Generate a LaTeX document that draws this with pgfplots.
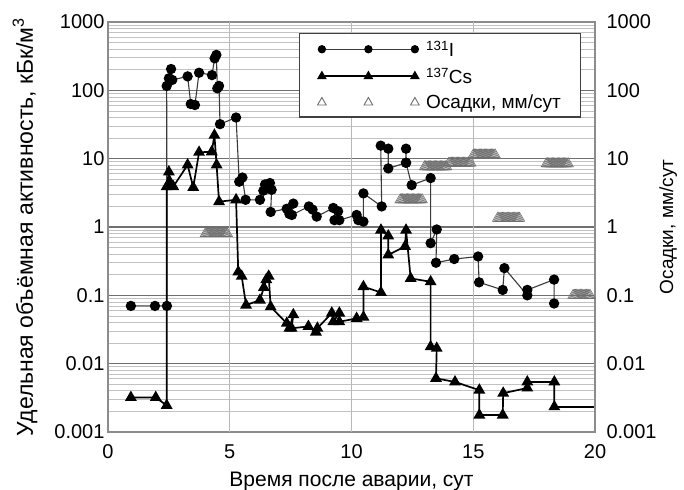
\documentclass[border=0pt]{standalone}
\usepackage{fontspec}
\setmainfont{Liberation Sans}
\usepackage{pgfplots}
\pgfplotsset{compat=1.18}
\definecolor{majgrid}{HTML}{707070}
\definecolor{mingrid}{HTML}{C2C2C2}
\definecolor{vgrid}{HTML}{B8B8B8}
\definecolor{framec}{HTML}{8C8C8C}
\definecolor{rain}{HTML}{6E6E6E}
\definecolor{iline}{HTML}{3A3A3A}
\begin{document}
\begin{tikzpicture}
\begin{axis}[name=ax, scale only axis, width=487pt, height=410pt,
  xmin=0, xmax=20, ymode=log, ymin=0.001, ymax=1000,
  xtick={0,5,10,15,20}, xticklabels={0,5,10,15,20},
  extra x ticks={5,10,15}, extra x tick labels={},
  extra x tick style={xmajorgrids=true, major grid style={vgrid, line width=0.9pt}},
  ytick={0.001,0.01,0.1,1,10,100,1000},
  yticklabels={0.001,0.01,0.1,1,10,100,1000},
  minor ytick={0.002,0.003,0.004,0.005,0.006,0.007,0.008,0.009,
    0.02,0.03,0.04,0.05,0.06,0.07,0.08,0.09,
    0.2,0.3,0.4,0.5,0.6,0.7,0.8,0.9,
    2,3,4,5,6,7,8,9,20,30,40,50,60,70,80,90,
    200,300,400,500,600,700,800,900},
  ymajorgrids, yminorgrids,
  major grid style={majgrid, line width=1.1pt},
  minor grid style={mingrid, line width=0.8pt},
  tick pos=left, major tick length=0pt, minor tick length=0pt,
  axis line style={framec, line width=1.8pt},
  tick label style={font=\fontsize{20}{24}\selectfont},
  xticklabel style={yshift=-9pt},
  xlabel style={font=\fontsize{21}{25}\selectfont, yshift=-6pt},
  ylabel style={font=\fontsize{23}{27}\selectfont, yshift=10pt},
  xlabel={Время после аварии, сут},
  ylabel={Удельная объёмная активность, кБк/м\textsuperscript{3}},
  legend style={at={(0.392,0.973)}, anchor=north west, draw=black!75, line width=1.3pt,
    fill=white, font=\fontsize{19}{22}\selectfont, inner xsep=18pt, inner ysep=5pt, row sep=6pt},
  legend cell align=left,
  legend image code/.code={\draw[mark repeat=1,mark phase=1,#1] plot coordinates {(0pt,0pt) (46.5pt,0pt) (93pt,0pt)};},
]
\addplot[iline, line width=1.1pt, mark=*, mark size=4.6pt, mark options={black, fill=black, solid},
  legend image post style={mark size=3.6pt}] coordinates {
(0.94,0.07) (1.93,0.07) (2.42,0.07) (2.41,116) (2.5,150) (2.59,205) (2.64,142) (3.27,160) (3.40,63) (3.57,61) (3.74,181) (4.27,167) (4.38,294) (4.45,330) (4.49,107) (4.56,116) (4.60,32) (5.26,40) (5.39,4.6) (5.52,5.3) (5.65,2.5) (6.24,2.5) (6.38,3.4) (6.45,4.2) (6.55,3.7) (6.65,4.4) (6.72,3.5) (6.68,1.66) (7.34,1.85) (7.45,1.55) (7.61,2.2) (7.55,1.5) (8.25,2.0) (8.4,1.8) (8.57,1.42) (9.25,1.9) (9.45,1.7) (9.3,1.26) (9.5,1.26) (10.21,1.5) (10.28,1.26) (10.49,1.2) (10.49,3.1) (11.24,2.0) (11.2,15.5) (11.51,14) (11.51,7.2) (12.24,8.7) (12.24,14) (12.24,8.7) (12.47,4.1) (13.25,5.2) (13.25,0.58) (13.5,0.92) (13.47,0.30) (14.22,0.34) (15.2,0.37) (15.24,0.155) (16.21,0.12) (16.28,0.25) (17.22,0.10) (17.22,0.12) (18.32,0.17) (18.32,0.076)
};
\addlegendentry{\hspace{5pt}\textsuperscript{131}I}
\addplot[black, line width=1.7pt, mark=triangle*, mark size=5.2pt, mark options={black, fill=black, solid},
  legend image post style={mark size=4pt}] coordinates {
(0.94,0.0032) (1.96,0.0032) (2.41,0.00245) (2.41,3.9) (2.5,6.4) (2.55,4.5) (2.68,3.9) (3.27,8.1) (3.5,3.8) (3.74,12.4) (4.26,12.6) (4.37,22) (4.46,8.1) (4.56,2.35) (5.26,2.5) (5.35,0.22) (5.49,0.19) (5.67,0.072) (6.24,0.085) (6.4,0.13) (6.5,0.17) (6.6,0.19) (6.68,0.068) (7.34,0.039) (7.45,0.033) (7.61,0.052) (7.54,0.033) (8.23,0.035) (8.54,0.029) (8.6,0.033) (9.19,0.055) (9.25,0.041) (9.5,0.055) (9.5,0.041) (10.21,0.046) (10.49,0.048) (10.49,0.134) (11.21,0.11) (11.21,0.90) (11.51,0.74) (11.51,0.39) (12.2,0.52) (12.24,0.90) (12.43,0.177) (13.25,0.158) (13.25,0.0177) (13.5,0.0168) (13.47,0.0061) (14.25,0.0054) (15.25,0.0041) (15.25,0.00177) (16.21,0.00177) (16.23,0.0037) (17.22,0.0044) (17.22,0.0054) (18.33,0.0054) (18.33,0.00234)
};
\addlegendentry{\hspace{5pt}\textsuperscript{137}Cs}
\addplot[black, line width=1.7pt, forget plot] coordinates {(18.33,0.00234) (20,0.00234)};
\addlegendimage{only marks, mark=triangle, mark size=5pt, mark options={rain, line width=0.9pt}}
\addlegendentry{\hspace{5pt}Осадки, мм/сут}
\end{axis}
\begin{axis}[scale only axis, width=487pt, height=410pt,
  xmin=0, xmax=20, ymode=log, ymin=0.001, ymax=1000,
  axis x line=none, axis y line*=right,
  ytick={0.001,0.01,0.1,1,10,100,1000},
  yticklabels={0.001,0.01,0.1,1,10,100,1000},
  major tick length=0pt, minor tick length=0pt, minor ytick={},
  axis line style={framec, line width=1.8pt},
  tick label style={font=\fontsize{20}{24}\selectfont},
  yticklabel style={xshift=8pt},
  ylabel style={font=\fontsize{19}{23}\selectfont, yshift=4pt},
  ylabel={Осадки, мм/сут},
]
\addplot[only marks, mark=triangle, mark size=6pt, mark options={rain, line width=0.6pt}] coordinates {
(4.0,0.8) (4.05,0.8) (4.1,0.8) (4.15,0.8) (4.2,0.8) (4.25,0.8) (4.3,0.8) (4.35,0.8) (4.4,0.8) (4.45,0.8) (4.5,0.8) (4.55,0.8) (4.6,0.8) (4.65,0.8) (4.7,0.8) (4.75,0.8) (4.8,0.8) (4.85,0.8) (4.9,0.8)
(12.0,2.5) (12.05,2.5) (12.1,2.5) (12.15,2.5) (12.2,2.5) (12.25,2.5) (12.3,2.5) (12.35,2.5) (12.4,2.5) (12.45,2.5) (12.5,2.5) (12.55,2.5) (12.6,2.5) (12.65,2.5) (12.7,2.5) (12.75,2.5) (12.8,2.5) (12.85,2.5) (12.9,2.5)
(13.0,7.6) (13.05,7.6) (13.1,7.6) (13.15,7.6) (13.2,7.6) (13.25,7.6) (13.3,7.6) (13.35,7.6) (13.4,7.6) (13.45,7.6) (13.5,7.6) (13.55,7.6) (13.6,7.6) (13.65,7.6) (13.7,7.6) (13.75,7.6) (13.8,7.6) (13.85,7.6) (13.9,7.6)
(14.0,8.6) (14.05,8.6) (14.1,8.6) (14.15,8.6) (14.2,8.6) (14.25,8.6) (14.3,8.6) (14.35,8.6) (14.4,8.6) (14.45,8.6) (14.5,8.6) (14.55,8.6) (14.6,8.6) (14.65,8.6) (14.7,8.6) (14.75,8.6) (14.8,8.6) (14.85,8.6) (14.9,8.6)
(15.0,11.3) (15.05,11.3) (15.1,11.3) (15.15,11.3) (15.2,11.3) (15.25,11.3) (15.3,11.3) (15.35,11.3) (15.4,11.3) (15.45,11.3) (15.5,11.3) (15.55,11.3) (15.6,11.3) (15.65,11.3) (15.7,11.3) (15.75,11.3) (15.8,11.3) (15.85,11.3) (15.9,11.3)
(16.0,1.34) (16.05,1.34) (16.1,1.34) (16.15,1.34) (16.2,1.34) (16.25,1.34) (16.3,1.34) (16.35,1.34) (16.4,1.34) (16.45,1.34) (16.5,1.34) (16.55,1.34) (16.6,1.34) (16.65,1.34) (16.7,1.34) (16.75,1.34) (16.8,1.34) (16.85,1.34) (16.9,1.34)
(18.0,8.4) (18.05,8.4) (18.1,8.4) (18.15,8.4) (18.2,8.4) (18.25,8.4) (18.3,8.4) (18.35,8.4) (18.4,8.4) (18.45,8.4) (18.5,8.4) (18.55,8.4) (18.6,8.4) (18.65,8.4) (18.7,8.4) (18.75,8.4) (18.8,8.4) (18.85,8.4) (18.9,8.4)
(19.1,0.1) (19.15,0.1) (19.2,0.1) (19.25,0.1) (19.3,0.1) (19.35,0.1) (19.4,0.1) (19.45,0.1) (19.5,0.1) (19.55,0.1) (19.6,0.1) (19.65,0.1) (19.7,0.1) (19.75,0.1) (19.8,0.1)
};
\end{axis}
\pgfresetboundingbox
\path ([shift={(-108pt,-57pt)}]ax.south west) rectangle ([shift={(89pt,22pt)}]ax.north east);
\end{tikzpicture}
\end{document}
